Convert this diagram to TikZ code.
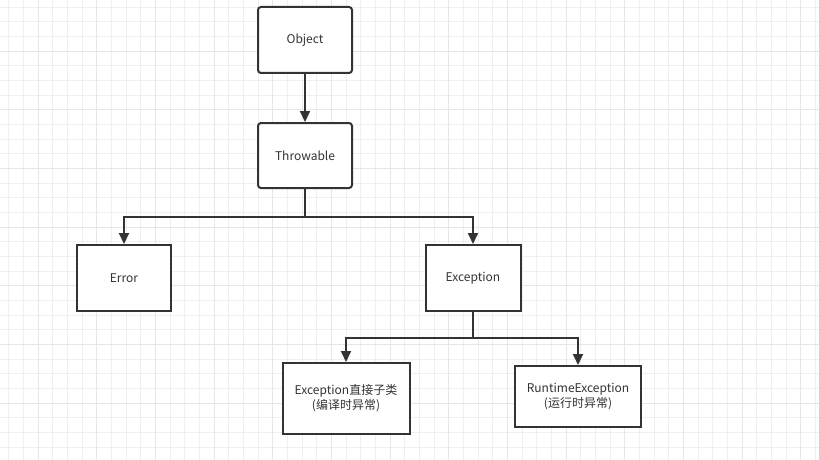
\documentclass[tikz,border=0pt]{standalone}
\usepackage{fontspec}
\setmainfont{Noto Sans CJK SC}
\usepackage{tikz}
\usetikzlibrary{arrows.meta,positioning}
\definecolor{InkGray}{HTML}{333333}
\definecolor{GridMinor}{HTML}{EFEFEF}
\definecolor{GridMajor}{HTML}{E6E6E6}

\begin{document}
\begin{tikzpicture}[x=1pt,y=-1pt,
    box/.style={draw=InkGray,line width=2pt,fill=white,text=InkGray,
                align=center,font=\fontsize{12}{15}\selectfont,inner sep=0pt},
    rbox/.style={box,rounded corners=3pt},
    arr/.style={-{Triangle[length=11pt,width=10pt]},line width=2pt,InkGray}]
    \useasboundingbox (0,0) rectangle (819,460);
    \fill[white] (0,0) rectangle (819,460);
    % background grid
    \foreach \i in {0,...,55}{
      \pgfmathsetmacro{\gx}{round(8.33+14.667*\i)+0.5}
      \draw[GridMinor,line width=1pt] (\gx,0) -- (\gx,460);}
    \foreach \j in {0,...,31}{
      \pgfmathsetmacro{\gy}{round(6.7+14.667*\j)+0.5}
      \draw[GridMinor,line width=1pt] (0,\gy) -- (819,\gy);}
    \foreach \i in {0,...,13}{
      \pgfmathsetmacro{\gx}{round(37.67+58.667*\i)+0.5}
      \draw[GridMajor,line width=1pt] (\gx,0) -- (\gx,460);}
    \foreach \j in {0,...,7}{
      \pgfmathsetmacro{\gy}{round(50.7+58.667*\j)+0.5}
      \draw[GridMajor,line width=1pt] (0,\gy) -- (819,\gy);}
    % nodes
    \node[rbox,minimum width=94pt,minimum height=66pt] (object) at (305,40) {Object};
    \node[rbox,minimum width=94pt,minimum height=65pt,below=48pt of object] (throwable) {Throwable};
    \node[box,minimum width=94pt,minimum height=66pt] (error) at (124,278) {Error};
    \node[box,minimum width=95pt,minimum height=66pt] (exception) at (473,278) {Exception};
    \node[box,minimum width=127pt,minimum height=71pt] (checked) at (346,398.5) {Exception直接子类\\(编译时异常)};
    \node[box,minimum width=126pt,minimum height=61pt] (runtime) at (578,396.5) {RuntimeException\\(运行时异常)};
    % connectors
    \draw[arr] (object) -- (throwable);
    \draw[arr] (throwable.south) -- ([yshift=-28pt]throwable.south) -| (error);
    \draw[arr] (throwable.south) -- ([yshift=-28pt]throwable.south) -| (exception);
    \draw[arr] (exception.south) -- ([yshift=-26pt]exception.south) -| (checked);
    \draw[arr] (exception.south) -- ([yshift=-26pt]exception.south) -| (runtime);
\end{tikzpicture}
\end{document}
